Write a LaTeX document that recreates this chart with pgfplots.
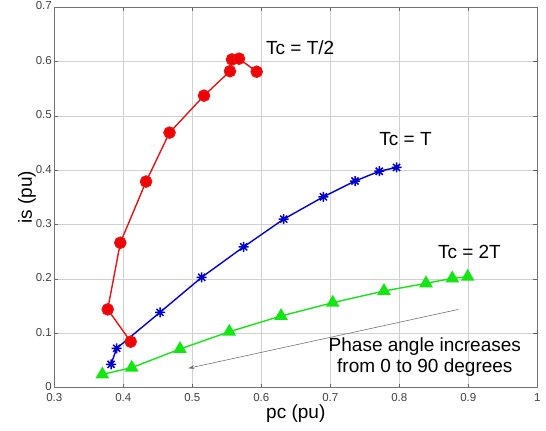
\documentclass[border=0pt]{standalone}
\usepackage{pgfplots}
\pgfplotsset{compat=1.18}
\usetikzlibrary{arrows.meta}
\usepackage{fontspec}
\setmainfont{Liberation Sans}
\pgfdeclareplotmark{mstar}{%
  \pgfpathmoveto{\pgfqpoint{-\pgfplotmarksize}{0pt}}\pgfpathlineto{\pgfqpoint{\pgfplotmarksize}{0pt}}%
  \pgfpathmoveto{\pgfqpoint{0pt}{-\pgfplotmarksize}}\pgfpathlineto{\pgfqpoint{0pt}{\pgfplotmarksize}}%
  \pgfpathmoveto{\pgfqpoint{-0.7071\pgfplotmarksize}{-0.7071\pgfplotmarksize}}\pgfpathlineto{\pgfqpoint{0.7071\pgfplotmarksize}{0.7071\pgfplotmarksize}}%
  \pgfpathmoveto{\pgfqpoint{-0.7071\pgfplotmarksize}{0.7071\pgfplotmarksize}}\pgfpathlineto{\pgfqpoint{0.7071\pgfplotmarksize}{-0.7071\pgfplotmarksize}}%
  \pgfusepathqstroke}
\begin{document}
\begin{tikzpicture}
\begin{axis}[
  name=ax,
  scale only axis,
  width=483pt, height=380.7pt,
  xmin=0.3, xmax=1, ymin=0, ymax=0.7,
  xtick={0.3,0.4,...,1.0},
  ytick={0,0.1,...,0.7},
  xticklabels={0.3,0.4,0.5,0.6,0.7,0.8,0.9,1},
  yticklabels={0,0.1,0.2,0.3,0.4,0.5,0.6,0.7},
  /pgf/number format/assume math mode=true,
  tick label style={font=\fontsize{11.5}{13}\selectfont, text=black!75},
  yticklabel style={xshift=1pt, yshift=1pt},
  xticklabel style={yshift=-2pt},
  tick align=inside,
  tick style={black!60, line width=0.5pt},
  major tick length=4pt,
  grid=major,
  grid style={black!18, line width=0.5pt},
  axis line style={black!55, line width=0.7pt},
  xlabel={pc (pu)}, ylabel={is (pu)},
  label style={font=\fontsize{19}{21}\selectfont},
  xlabel style={yshift=4pt},
  ylabel style={yshift=-7pt},
  clip=false,
]
\addplot[color={rgb,255:red,0;green,0;blue,205}, line width=1.4pt, mark=mstar, mark size=5pt, mark options={line width=1.5pt}] coordinates {
(0.3822,0.043) (0.3904,0.0724) (0.4532,0.1386) (0.5136,0.203) (0.5745,0.259)
(0.6325,0.310) (0.690,0.351) (0.7358,0.380) (0.771,0.398) (0.796,0.405)};
\addplot[color={rgb,255:red,20;green,230;blue,20}, line width=1.4pt, mark=triangle*, mark size=6.5pt] coordinates {
(0.3696,0.0246) (0.4122,0.0368) (0.4822,0.0711) (0.5536,0.1029) (0.6286,0.1318)
(0.7035,0.1563) (0.7778,0.1778) (0.8387,0.1919) (0.8768,0.2011) (0.8991,0.204)};
\addplot[color={rgb,255:red,230;green,20;blue,20}, line width=1.4pt, mark=*, mark size=5.6pt, mark options={fill={rgb,255:red,240;green,0;blue,0}}] coordinates {
(0.4107,0.0846) (0.3774,0.144) (0.3957,0.2665) (0.433,0.379) (0.467,0.469)
(0.517,0.537) (0.5546,0.582) (0.5575,0.6035) (0.5677,0.605) (0.5933,0.581)};
\draw[black!55, line width=0.6pt, -{Stealth[length=6pt,width=4pt]}] (axis cs:0.8857,0.144) -- (axis cs:0.4943,0.0357);
\node[anchor=west, font=\fontsize{19}{21}\selectfont] at (axis cs:0.602,0.626) {Tc = T/2};
\node[anchor=west, font=\fontsize{19}{21}\selectfont] at (axis cs:0.766,0.457) {Tc = T};
\node[anchor=west, font=\fontsize{19}{21}\selectfont] at (axis cs:0.851,0.249) {Tc = 2T};
\node[align=center, font=\fontsize{19}{21}\selectfont] at (axis cs:0.837,0.057) {Phase angle increases\\from 0 to 90 degrees};
\end{axis}
\pgfresetboundingbox
\path[use as bounding box] ([shift={(-54.3pt,-42.3pt)}]ax.south west) rectangle ([shift={(8.7pt,7pt)}]ax.north east);
\end{tikzpicture}
\end{document}
